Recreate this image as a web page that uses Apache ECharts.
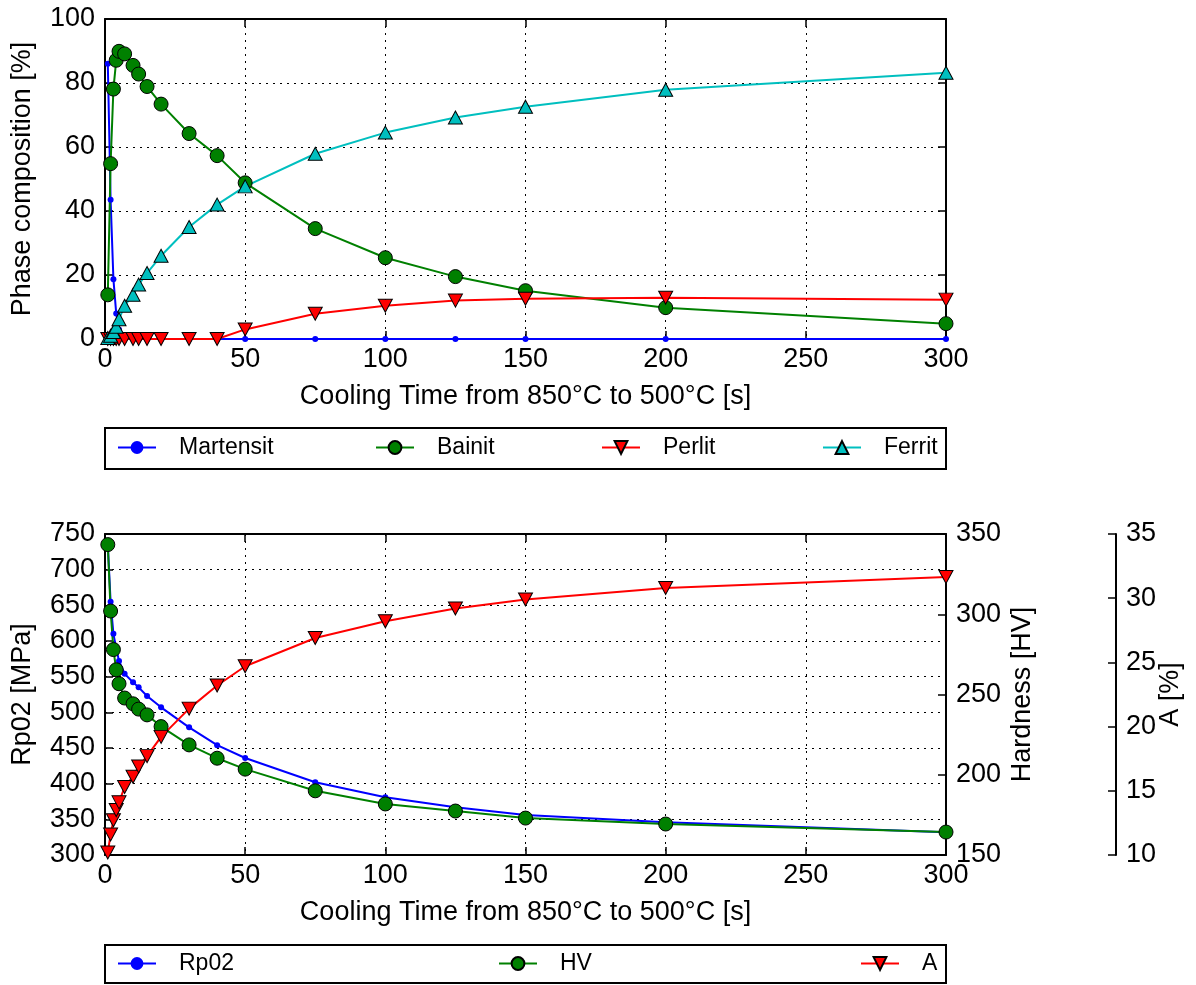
<!DOCTYPE html>
<html>
<head>
<meta charset="utf-8">
<script src="https://cdn.jsdelivr.net/npm/echarts@6/dist/echarts.min.js"></script>
<style>
html,body{margin:0;padding:0;background:#fff;}
#chart{width:1196px;height:985px;}
</style>
</head>
<body>
<div id="chart"></div>
<script>
// ---- data ----
const coolingTime = [1, 2, 3, 4, 5, 7, 10, 12, 15, 20, 30, 40, 50, 75, 100, 125, 150, 200, 300];
const martensit = [86, 43.5, 18.7, 8, 3, 1, 0.4, 0, 0, 0, 0, 0, 0, 0, 0, 0, 0, 0, 0];
const bainit = [13.8, 54.8, 78.1, 87.1, 89.9, 89.1, 85.5, 82.8, 78.9, 73.4, 64.2, 57.3, 48.8, 34.5, 25.4, 19.5, 15.1, 9.8, 4.8];
const perlit = [0, 0, 0, 0, 0, 0, 0, 0, 0, 0, 0, 0, 3.0, 7.9, 10.4, 12.0, 12.6, 12.9, 12.3];
const ferrit = [0.3, 1.0, 2.2, 3.8, 6.2, 10.4, 13.8, 17.0, 20.6, 26.0, 35.0, 42.0, 47.7, 57.9, 64.5, 69.2, 72.6, 77.9, 83.2];
const rp02 = [735, 655, 610, 590, 572, 554, 542, 535, 523, 507, 479, 454, 436, 402, 381, 367, 356, 346, 332];
const hv = [343.4, 302, 278, 265.4, 256.7, 247.8, 244.2, 240.9, 237.3, 230, 218.6, 210.3, 203.5, 190, 181.8, 177.4, 173, 169.3, 164.3];
const elong = [10.2, 11.6, 12.7, 13.5, 14.1, 15.3, 16.1, 16.9, 17.7, 19.2, 21.4, 23.2, 24.7, 26.9, 28.2, 29.2, 29.9, 30.8, 31.65];
const xTitle = 'Cooling Time from 850°C to 500°C [s]';

function pairs(ys) { return coolingTime.map((x, i) => [x, ys[i]]); }

const FONT = "'Liberation Sans', Arial, sans-serif";
const BLACK = '#000';
const tickFont = 27;

function xAx(grid, pos, showLabel) {
  return {
    type: 'value', gridIndex: grid, position: pos, min: 0, max: 300, interval: 50,
    name: showLabel ? xTitle : '', nameLocation: 'middle', nameGap: 44,
    nameTextStyle: { fontSize: tickFont, color: BLACK, fontFamily: FONT },
    axisLine: { show: true, onZero: false, lineStyle: { color: BLACK, width: 2 } },
    axisTick: { show: true, inside: true, length: 8, lineStyle: { color: BLACK, width: 1.5 } },
    axisLabel: { show: showLabel, fontSize: tickFont, color: BLACK, fontFamily: FONT, margin: 7 },
    splitLine: { show: showLabel, lineStyle: { color: BLACK, width: 1, type: [2, 5] } }
  };
}
function yAx(grid, pos, min, max, interval, name, gap, opts) {
  const o = {
    type: 'value', gridIndex: grid, position: pos, min: min, max: max, interval: interval,
    name: name, nameLocation: 'middle', nameGap: gap, nameRotate: 90, nameMoveOverlap: false,
    nameTextStyle: { fontSize: tickFont, color: BLACK, fontFamily: FONT },
    axisLine: { show: true, onZero: false, lineStyle: { color: BLACK, width: 2 } },
    axisTick: { show: true, inside: true, length: 8, lineStyle: { color: BLACK, width: 1.5 } },
    axisLabel: { show: name !== '', fontSize: tickFont, color: BLACK, fontFamily: FONT, margin: 10 },
    splitLine: { show: false }
  };
  return Object.assign(o, opts || {});
}

const gridLine = { show: true, lineStyle: { color: BLACK, width: 1, type: [2, 5] } };

function mkLegend(name, left, top) {
  return {
    data: [name], left: left, top: top, padding: 0, itemWidth: 38, itemHeight: 16,
    selectedMode: false,
    textStyle: { fontSize: 23, color: BLACK, fontFamily: FONT, padding: [0, 0, 0, 18] }
  };
}
function dotSeries(name, xi, yi, ys) {
  return {
    name: name, type: 'line', xAxisIndex: xi, yAxisIndex: yi, data: pairs(ys),
    symbol: 'circle', symbolSize: 6, showSymbol: true,
    lineStyle: { color: '#0000ff', width: 2 },
    itemStyle: { color: '#0000ff', borderWidth: 0 }
  };
}
function circleSeries(name, xi, yi, ys) {
  return {
    name: name, type: 'line', xAxisIndex: xi, yAxisIndex: yi, data: pairs(ys),
    symbol: 'circle', symbolSize: 14, showSymbol: true,
    lineStyle: { color: '#008000', width: 2 },
    itemStyle: { color: '#008000', borderColor: BLACK, borderWidth: 1 }
  };
}
function triSeries(name, xi, yi, ys, color, rot) {
  return {
    name: name, type: 'line', xAxisIndex: xi, yAxisIndex: yi, data: pairs(ys),
    symbol: 'triangle', symbolSize: [14, 13], symbolRotate: rot, showSymbol: true,
    lineStyle: { color: color, width: 2 },
    itemStyle: { color: color, borderColor: BLACK, borderWidth: 1 }
  };
}

const option = {
  animation: false,
  backgroundColor: '#fff',
  textStyle: { fontFamily: FONT },
  grid: [
    { left: 105, top: 19, width: 841, height: 320 },
    { left: 105, top: 534, width: 841, height: 321 }
  ],
  xAxis: [
    xAx(0, 'bottom', true), xAx(0, 'top', false),
    xAx(1, 'bottom', true), xAx(1, 'top', false)
  ],
  yAxis: [
    yAx(0, 'left', 0, 100, 20, 'Phase composition [%]', 69, { splitLine: gridLine }),
    yAx(0, 'right', 0, 100, 20, '', 0),
    yAx(1, 'left', 300, 750, 50, 'Rp02 [MPa]', 69, { splitLine: gridLine }),
    yAx(1, 'right', 150, 350, 50, 'Hardness [HV]', 63),
    yAx(1, 'right', 10, 35, 5, 'A [%]', 41, { offset: 170 })
  ],
  legend: [
    mkLegend('Martensit', 117, 436),
    mkLegend('Bainit', 375, 436),
    mkLegend('Perlit', 601, 436),
    mkLegend('Ferrit', 822, 436),
    mkLegend('Rp02', 117, 952),
    mkLegend('HV', 498, 952),
    mkLegend('A', 860, 952)
  ],
  graphic: [
    { type: 'rect', shape: { x: 105, y: 428, width: 841, height: 41 }, style: { fill: 'none', stroke: BLACK, lineWidth: 2 }, z: 100 },
    { type: 'rect', shape: { x: 105, y: 945, width: 841, height: 38 }, style: { fill: 'none', stroke: BLACK, lineWidth: 2 }, z: 100 }
  ],
  series: [
    dotSeries('Martensit', 0, 0, martensit),
    circleSeries('Bainit', 0, 0, bainit),
    triSeries('Perlit', 0, 0, perlit, '#ff0000', 180),
    triSeries('Ferrit', 0, 0, ferrit, '#00bfbf', 0),
    dotSeries('Rp02', 2, 2, rp02),
    circleSeries('HV', 2, 3, hv),
    triSeries('A', 2, 4, elong, '#ff0000', 180)
  ]
};

const chart = echarts.init(document.getElementById('chart'), null, { renderer: 'canvas' });
chart.setOption(option);
</script>
</body>
</html>
